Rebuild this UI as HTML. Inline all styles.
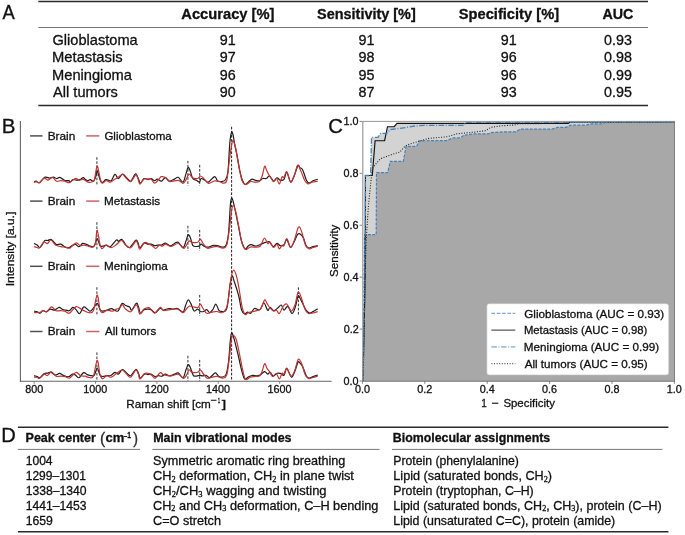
<!DOCTYPE html>
<html><head><meta charset="utf-8"><style>
html,body{margin:0;padding:0;background:#fff;}
svg{display:block;font-family:"Liberation Sans", sans-serif;will-change:transform;}
text{stroke:#111;stroke-width:0.3px;}
</style></head><body>
<svg width="685" height="535" viewBox="0 0 685 535">
<text x="2.41" y="19.2" font-size="19.6" textLength="12.23" lengthAdjust="spacingAndGlyphs" fill="#111">A</text>
<line x1="38.3" y1="1.6" x2="648" y2="1.6" stroke="#2a2a2a" stroke-width="1.5"/>
<line x1="38.3" y1="27.5" x2="648" y2="27.5" stroke="#777" stroke-width="1"/>
<line x1="38.3" y1="105.5" x2="648" y2="105.5" stroke="#2a2a2a" stroke-width="1.4"/>
<text x="181.33" y="19.1" font-size="14.3" font-weight="bold" textLength="93.09" lengthAdjust="spacingAndGlyphs" fill="#111">Accuracy [%]</text>
<text x="317.07" y="19.1" font-size="14.3" font-weight="bold" textLength="98.70" lengthAdjust="spacingAndGlyphs" fill="#111">Sensitivity [%]</text>
<text x="458.76" y="19.1" font-size="14.3" font-weight="bold" textLength="100.32" lengthAdjust="spacingAndGlyphs" fill="#111">Specificity [%]</text>
<text x="602.44" y="19.1" font-size="14.3" font-weight="bold" textLength="30.94" lengthAdjust="spacingAndGlyphs" fill="#111">AUC</text>
<text x="52.47" y="44.7" font-size="14.3" textLength="85.25" lengthAdjust="spacingAndGlyphs" fill="#111">Glioblastoma</text>
<text x="227.7" y="44.7" font-size="14.3" text-anchor="middle" fill="#111">91</text>
<text x="366.5" y="44.7" font-size="14.3" text-anchor="middle" fill="#111">91</text>
<text x="508.7" y="44.7" font-size="14.3" text-anchor="middle" fill="#111">91</text>
<text x="618.0" y="44.7" font-size="14.3" text-anchor="middle" fill="#111">0.93</text>
<text x="52.02" y="62.1" font-size="14.3" textLength="70.59" lengthAdjust="spacingAndGlyphs" fill="#111">Metastasis</text>
<text x="227.7" y="62.1" font-size="14.3" text-anchor="middle" fill="#111">97</text>
<text x="366.5" y="62.1" font-size="14.3" text-anchor="middle" fill="#111">98</text>
<text x="508.7" y="62.1" font-size="14.3" text-anchor="middle" fill="#111">96</text>
<text x="618.0" y="62.1" font-size="14.3" text-anchor="middle" fill="#111">0.98</text>
<text x="52.03" y="79.7" font-size="14.3" textLength="79.91" lengthAdjust="spacingAndGlyphs" fill="#111">Meningioma</text>
<text x="227.7" y="79.7" font-size="14.3" text-anchor="middle" fill="#111">96</text>
<text x="366.5" y="79.7" font-size="14.3" text-anchor="middle" fill="#111">95</text>
<text x="508.7" y="79.7" font-size="14.3" text-anchor="middle" fill="#111">96</text>
<text x="618.0" y="79.7" font-size="14.3" text-anchor="middle" fill="#111">0.99</text>
<text x="53.13" y="96.9" font-size="14.3" textLength="64.69" lengthAdjust="spacingAndGlyphs" fill="#111">All tumors</text>
<text x="227.7" y="96.9" font-size="14.3" text-anchor="middle" fill="#111">90</text>
<text x="366.5" y="96.9" font-size="14.3" text-anchor="middle" fill="#111">87</text>
<text x="508.7" y="96.9" font-size="14.3" text-anchor="middle" fill="#111">93</text>
<text x="618.0" y="96.9" font-size="14.3" text-anchor="middle" fill="#111">0.95</text>
<text x="1.39" y="441.6" font-size="20" textLength="14.57" lengthAdjust="spacingAndGlyphs" fill="#111">D</text>
<line x1="17.9" y1="427.3" x2="668.4" y2="427.3" stroke="#2a2a2a" stroke-width="1.5"/>
<line x1="17.9" y1="449.4" x2="140" y2="449.4" stroke="#777" stroke-width="1"/>
<line x1="152.4" y1="449.4" x2="379.6" y2="449.4" stroke="#777" stroke-width="1"/>
<line x1="392" y1="449.4" x2="662.4" y2="449.4" stroke="#777" stroke-width="1"/>
<line x1="17.9" y1="531.8" x2="668.4" y2="531.8" stroke="#2a2a2a" stroke-width="1.5"/>
<text x="25.59" y="442.4" font-size="12.0" font-weight="bold" textLength="70.20" lengthAdjust="spacingAndGlyphs" fill="#111">Peak center</text>
<text x="100.07" y="444.0" font-size="16" textLength="5.15" lengthAdjust="spacingAndGlyphs" fill="#333">(</text>
<text x="105.58" y="442.4" font-size="12.0" font-weight="bold" textLength="18.77" lengthAdjust="spacingAndGlyphs" fill="#111">cm</text>
<text x="123.53" y="437.8" font-size="8" font-weight="bold" textLength="3.92" lengthAdjust="spacingAndGlyphs" fill="#111">-</text>
<text x="127.35" y="437.9" font-size="9.5" font-weight="bold" textLength="3.83" lengthAdjust="spacingAndGlyphs" fill="#111">1</text>
<text x="133.16" y="444.0" font-size="16" textLength="4.74" lengthAdjust="spacingAndGlyphs" fill="#333">)</text>
<text x="153.19" y="442.4" font-size="12.0" font-weight="bold" textLength="138.35" lengthAdjust="spacingAndGlyphs" fill="#111">Main vibrational modes</text>
<text x="392.80" y="442.4" font-size="12.0" font-weight="bold" textLength="157.41" lengthAdjust="spacingAndGlyphs" fill="#111">Biomolecular assignments</text>
<text x="25.7" y="464.8" font-size="12.55" textLength="26.91" lengthAdjust="spacingAndGlyphs" fill="#111" id="d00">1004</text>
<text x="153.0" y="464.8" font-size="12.55" textLength="192.34" lengthAdjust="spacingAndGlyphs" fill="#111" id="d01">Symmetric aromatic ring breathing</text>
<text x="393.3" y="464.8" font-size="12.55" textLength="125.64" lengthAdjust="spacingAndGlyphs" fill="#111" id="d02">Protein (phenylalanine)</text>
<text x="25.7" y="479.75" font-size="12.55" textLength="60.2" lengthAdjust="spacingAndGlyphs" fill="#111" id="d10">1299–1301</text>
<text x="153.0" y="479.75" font-size="12.55" textLength="200.95" lengthAdjust="spacingAndGlyphs" fill="#111" id="d11">CH<tspan font-size="8.2" dy="1.8" font-family="Liberation Serif">2</tspan><tspan dy="-1.8"> deformation, CH</tspan><tspan font-size="8.2" dy="1.8" font-family="Liberation Serif">2</tspan><tspan dy="-1.8"> in plane twist</tspan></text>
<text x="393.3" y="479.75" font-size="12.55" textLength="158.78" lengthAdjust="spacingAndGlyphs" fill="#111" id="d12">Lipid (saturated bonds, CH<tspan font-size="8.2" dy="1.8" font-family="Liberation Serif">2</tspan><tspan dy="-1.8">)</tspan></text>
<text x="25.7" y="494.7" font-size="12.55" textLength="60.95" lengthAdjust="spacingAndGlyphs" fill="#111" id="d20">1338–1340</text>
<text x="153.0" y="494.7" font-size="12.55" textLength="173.57" lengthAdjust="spacingAndGlyphs" fill="#111" id="d21">CH<tspan font-size="8.2" dy="1.8" font-family="Liberation Serif">2</tspan><tspan dy="-1.8">/CH</tspan><tspan font-size="8.2" dy="1.8" font-family="Liberation Serif">3</tspan><tspan dy="-1.8"> wagging and twisting</tspan></text>
<text x="393.3" y="494.7" font-size="12.55" textLength="140.4" lengthAdjust="spacingAndGlyphs" fill="#111" id="d22">Protein (tryptophan, C–H)</text>
<text x="25.7" y="509.65" font-size="12.55" textLength="60.92" lengthAdjust="spacingAndGlyphs" fill="#111" id="d30">1441–1453</text>
<text x="153.0" y="509.65" font-size="12.55" textLength="225.42" lengthAdjust="spacingAndGlyphs" fill="#111" id="d31">CH<tspan font-size="8.2" dy="1.8" font-family="Liberation Serif">2</tspan><tspan dy="-1.8"> and CH</tspan><tspan font-size="8.2" dy="1.8" font-family="Liberation Serif">3</tspan><tspan dy="-1.8"> deformation, C–H bending</tspan></text>
<text x="393.3" y="509.65" font-size="12.55" textLength="268.3" lengthAdjust="spacingAndGlyphs" fill="#111" id="d32">Lipid (saturated bonds, CH<tspan font-size="8.2" dy="1.8" font-family="Liberation Serif">2</tspan><tspan dy="-1.8">, CH</tspan><tspan font-size="8.2" dy="1.8" font-family="Liberation Serif">3</tspan><tspan dy="-1.8">), protein (C–H)</tspan></text>
<text x="25.7" y="524.6" font-size="12.55" textLength="27.15" lengthAdjust="spacingAndGlyphs" fill="#111" id="d40">1659</text>
<text x="153.0" y="524.6" font-size="12.55" textLength="67.94" lengthAdjust="spacingAndGlyphs" fill="#111" id="d41">C=O stretch</text>
<text x="393.3" y="524.6" font-size="12.55" textLength="221.86" lengthAdjust="spacingAndGlyphs" fill="#111" id="d42">Lipid (unsaturated C=C), protein (amide)</text>
<text x="1.66" y="132.5" font-size="19.6" textLength="13.71" lengthAdjust="spacingAndGlyphs" fill="#111">B</text>
<line x1="20.4" y1="121" x2="20.4" y2="381.8" stroke="#666" stroke-width="1.1"/>
<line x1="19.9" y1="381.25" x2="331.6" y2="381.25" stroke="#666" stroke-width="1.1"/>
<line x1="34.2" y1="381" x2="34.2" y2="383.8" stroke="#777" stroke-width="0.9"/>
<text x="25.18" y="393.4" font-size="10.8" textLength="18.02" lengthAdjust="spacingAndGlyphs" fill="#111">800</text>
<line x1="95.56" y1="381" x2="95.56" y2="383.8" stroke="#777" stroke-width="0.9"/>
<text x="83.36" y="393.4" font-size="10.8" textLength="24.03" lengthAdjust="spacingAndGlyphs" fill="#111">1000</text>
<line x1="156.92000000000002" y1="381" x2="156.92000000000002" y2="383.8" stroke="#777" stroke-width="0.9"/>
<text x="144.72" y="393.4" font-size="10.8" textLength="24.03" lengthAdjust="spacingAndGlyphs" fill="#111">1200</text>
<line x1="218.28000000000003" y1="381" x2="218.28000000000003" y2="383.8" stroke="#777" stroke-width="0.9"/>
<text x="206.08" y="393.4" font-size="10.8" textLength="24.03" lengthAdjust="spacingAndGlyphs" fill="#111">1400</text>
<line x1="279.64000000000004" y1="381" x2="279.64000000000004" y2="383.8" stroke="#777" stroke-width="0.9"/>
<text x="267.44" y="393.4" font-size="10.8" textLength="24.03" lengthAdjust="spacingAndGlyphs" fill="#111">1600</text>
<text x="126.26" y="407.5" font-size="11.8" textLength="84.55" lengthAdjust="spacingAndGlyphs" fill="#111">Raman shift [cm</text>
<text x="210.66" y="403.3" font-size="8.5" textLength="6.26" lengthAdjust="spacingAndGlyphs" fill="#111">−</text>
<text x="217.67" y="403.2" font-size="8.0" textLength="2.46" lengthAdjust="spacingAndGlyphs" fill="#111">1</text>
<text x="221.84" y="407.5" font-size="11.8" textLength="4.56" lengthAdjust="spacingAndGlyphs" fill="#111">]</text>
<g transform="translate(14.3,0) rotate(-90)">
<text x="-286.28" y="0" font-size="11.5" textLength="74.52" lengthAdjust="spacingAndGlyphs" fill="#111">Intensity [a.u.]</text>
</g>
<line x1="30.1" y1="135.9" x2="42.5" y2="135.9" stroke="#505050" stroke-width="1.5"/>
<text x="47.65" y="139.8" font-size="11.5" textLength="27.61" lengthAdjust="spacingAndGlyphs" fill="#111">Brain</text>
<line x1="86.2" y1="135.9" x2="99.3" y2="135.9" stroke="#cc6262" stroke-width="1.5"/>
<text x="104.42" y="139.8" font-size="11.5" textLength="67.29" lengthAdjust="spacingAndGlyphs" fill="#111">Glioblastoma</text>
<line x1="30.1" y1="201.1" x2="42.5" y2="201.1" stroke="#505050" stroke-width="1.5"/>
<text x="47.65" y="205.0" font-size="11.5" textLength="27.61" lengthAdjust="spacingAndGlyphs" fill="#111">Brain</text>
<line x1="86.2" y1="201.1" x2="99.3" y2="201.1" stroke="#cc6262" stroke-width="1.5"/>
<text x="104.06" y="205.0" font-size="11.5" textLength="56.14" lengthAdjust="spacingAndGlyphs" fill="#111">Metastasis</text>
<line x1="30.1" y1="266.30000000000007" x2="42.5" y2="266.30000000000007" stroke="#505050" stroke-width="1.5"/>
<text x="47.65" y="270.2" font-size="11.5" textLength="27.61" lengthAdjust="spacingAndGlyphs" fill="#111">Brain</text>
<line x1="86.2" y1="266.30000000000007" x2="99.3" y2="266.30000000000007" stroke="#cc6262" stroke-width="1.5"/>
<text x="104.07" y="270.2" font-size="11.5" textLength="63.66" lengthAdjust="spacingAndGlyphs" fill="#111">Meningioma</text>
<line x1="30.1" y1="331.50000000000006" x2="42.5" y2="331.50000000000006" stroke="#505050" stroke-width="1.5"/>
<text x="47.65" y="335.4" font-size="11.5" textLength="27.61" lengthAdjust="spacingAndGlyphs" fill="#111">Brain</text>
<line x1="86.2" y1="331.50000000000006" x2="99.3" y2="331.50000000000006" stroke="#cc6262" stroke-width="1.5"/>
<text x="104.94" y="335.4" font-size="11.5" textLength="51.27" lengthAdjust="spacingAndGlyphs" fill="#111">All tumors</text>
<text x="328.18" y="132.6" font-size="19.6" textLength="14.67" lengthAdjust="spacingAndGlyphs" fill="#111">C</text>
<text x="481.35" y="406.8" font-size="11.8" textLength="5.56" lengthAdjust="spacingAndGlyphs" fill="#111">1</text>
<text x="491.68" y="406.8" font-size="11.8" textLength="7.22" lengthAdjust="spacingAndGlyphs" fill="#111">−</text>
<text x="503.39" y="406.8" font-size="11.8" textLength="51.49" lengthAdjust="spacingAndGlyphs" fill="#111">Specificity</text>
<g transform="translate(338.1,0) rotate(-90)">
<text x="-277.02" y="0" font-size="11.5" textLength="52.30" lengthAdjust="spacingAndGlyphs" fill="#111">Sensitivity</text>
</g>
<text x="354.89" y="393.2" font-size="10.8" textLength="15.01" lengthAdjust="spacingAndGlyphs" fill="#111">0.0</text>
<line x1="362.4" y1="381" x2="362.4" y2="383.8" stroke="#777" stroke-width="0.9"/>
<text x="343.52" y="385.0" font-size="10.8" textLength="15.01" lengthAdjust="spacingAndGlyphs" fill="#111">0.0</text>
<line x1="359.6" y1="381.0" x2="362.4" y2="381.0" stroke="#777" stroke-width="0.9"/>
<text x="417.35" y="393.2" font-size="10.8" textLength="15.01" lengthAdjust="spacingAndGlyphs" fill="#111">0.2</text>
<line x1="424.79999999999995" y1="381" x2="424.79999999999995" y2="383.8" stroke="#777" stroke-width="0.9"/>
<text x="343.63" y="333.08" font-size="10.8" textLength="15.01" lengthAdjust="spacingAndGlyphs" fill="#111">0.2</text>
<line x1="359.6" y1="329.08" x2="362.4" y2="329.08" stroke="#777" stroke-width="0.9"/>
<text x="479.64" y="393.2" font-size="10.8" textLength="15.01" lengthAdjust="spacingAndGlyphs" fill="#111">0.4</text>
<line x1="487.2" y1="381" x2="487.2" y2="383.8" stroke="#777" stroke-width="0.9"/>
<text x="343.41" y="281.16" font-size="10.8" textLength="15.01" lengthAdjust="spacingAndGlyphs" fill="#111">0.4</text>
<line x1="359.6" y1="277.15999999999997" x2="362.4" y2="277.15999999999997" stroke="#777" stroke-width="0.9"/>
<text x="542.12" y="393.2" font-size="10.8" textLength="15.01" lengthAdjust="spacingAndGlyphs" fill="#111">0.6</text>
<line x1="549.5999999999999" y1="381" x2="549.5999999999999" y2="383.8" stroke="#777" stroke-width="0.9"/>
<text x="343.57" y="229.24" font-size="10.8" textLength="15.01" lengthAdjust="spacingAndGlyphs" fill="#111">0.6</text>
<line x1="359.6" y1="225.23999999999998" x2="362.4" y2="225.23999999999998" stroke="#777" stroke-width="0.9"/>
<text x="604.49" y="393.2" font-size="10.8" textLength="15.01" lengthAdjust="spacingAndGlyphs" fill="#111">0.8</text>
<line x1="612.0" y1="381" x2="612.0" y2="383.8" stroke="#777" stroke-width="0.9"/>
<text x="343.52" y="177.32" font-size="10.8" textLength="15.01" lengthAdjust="spacingAndGlyphs" fill="#111">0.8</text>
<line x1="359.6" y1="173.31999999999996" x2="362.4" y2="173.31999999999996" stroke="#777" stroke-width="0.9"/>
<text x="666.71" y="393.2" font-size="10.8" textLength="15.01" lengthAdjust="spacingAndGlyphs" fill="#111">1.0</text>
<line x1="674.4" y1="381" x2="674.4" y2="383.8" stroke="#777" stroke-width="0.9"/>
<text x="343.52" y="125.4" font-size="10.8" textLength="15.01" lengthAdjust="spacingAndGlyphs" fill="#111">1.0</text>
<line x1="359.6" y1="121.39999999999998" x2="362.4" y2="121.39999999999998" stroke="#777" stroke-width="0.9"/>
<line x1="96.9" y1="157.2" x2="96.9" y2="185.8" stroke="#333" stroke-width="1" stroke-dasharray="2.6 1.5"/>
<line x1="187.9" y1="160.8" x2="187.9" y2="185.8" stroke="#333" stroke-width="1" stroke-dasharray="2.6 1.5"/>
<line x1="199.7" y1="164.9" x2="199.7" y2="185.8" stroke="#333" stroke-width="1" stroke-dasharray="2.6 1.5"/>
<line x1="96.9" y1="222.2" x2="96.9" y2="250.8" stroke="#333" stroke-width="1" stroke-dasharray="2.6 1.5"/>
<line x1="187.9" y1="225.8" x2="187.9" y2="250.8" stroke="#333" stroke-width="1" stroke-dasharray="2.6 1.5"/>
<line x1="199.7" y1="229.9" x2="199.7" y2="250.8" stroke="#333" stroke-width="1" stroke-dasharray="2.6 1.5"/>
<line x1="96.9" y1="287.2" x2="96.9" y2="315.8" stroke="#333" stroke-width="1" stroke-dasharray="2.6 1.5"/>
<line x1="199.7" y1="294.9" x2="199.7" y2="315.8" stroke="#333" stroke-width="1" stroke-dasharray="2.6 1.5"/>
<line x1="298.4" y1="287.3" x2="298.4" y2="315.8" stroke="#333" stroke-width="1" stroke-dasharray="2.6 1.5"/>
<line x1="96.9" y1="352.4" x2="96.9" y2="381" stroke="#333" stroke-width="1" stroke-dasharray="2.6 1.5"/>
<line x1="187.9" y1="355.8" x2="187.9" y2="381" stroke="#333" stroke-width="1" stroke-dasharray="2.6 1.5"/>
<line x1="199.7" y1="359.9" x2="199.7" y2="381" stroke="#333" stroke-width="1" stroke-dasharray="2.6 1.5"/>
<line x1="231.6" y1="126.8" x2="231.6" y2="381" stroke="#222" stroke-width="1" stroke-dasharray="2.6 1.5"/>
<path d="M34.10,181.70 C34.43,181.62 35.25,181.03 36.10,181.20 C36.95,181.37 38.00,183.13 39.20,182.70 C40.40,182.27 42.28,179.53 43.30,178.60 C44.32,177.67 44.53,177.27 45.30,177.10 C46.07,176.93 47.13,177.43 47.90,177.60 C48.67,177.77 48.97,178.18 49.90,178.10 C50.83,178.02 52.38,177.02 53.50,177.10 C54.62,177.18 55.58,178.55 56.60,178.60 C57.62,178.65 58.58,177.32 59.60,177.40 C60.62,177.48 61.75,178.58 62.70,179.10 C63.65,179.62 64.28,180.23 65.30,180.50 C66.32,180.77 67.95,180.50 68.80,180.70 C69.65,180.90 69.72,181.88 70.40,181.70 C71.08,181.52 71.97,179.87 72.90,179.60 C73.83,179.33 74.80,180.10 76.00,180.10 C77.20,180.10 78.92,180.02 80.10,179.60 C81.28,179.18 82.17,177.60 83.10,177.60 C84.03,177.60 84.93,179.08 85.70,179.60 C86.47,180.12 86.93,180.70 87.70,180.70 C88.47,180.70 89.35,179.52 90.30,179.60 C91.25,179.68 92.55,181.53 93.40,181.20 C94.25,180.87 94.77,179.30 95.40,177.60 C96.03,175.90 96.68,171.52 97.20,171.00 C97.72,170.48 98.03,173.07 98.50,174.50 C98.97,175.93 99.40,178.23 100.00,179.60 C100.60,180.97 101.15,182.70 102.10,182.70 C103.05,182.70 104.68,180.03 105.70,179.60 C106.72,179.17 107.27,179.92 108.20,180.10 C109.13,180.28 110.18,181.67 111.30,180.70 C112.42,179.73 113.72,174.65 114.90,174.30 C116.08,173.95 117.13,178.65 118.40,178.60 C119.67,178.55 121.13,174.17 122.50,174.00 C123.87,173.83 125.23,176.40 126.60,177.60 C127.97,178.80 129.25,181.80 130.70,181.20 C132.15,180.60 134.10,174.60 135.30,174.00 C136.50,173.40 137.05,176.07 137.90,177.60 C138.75,179.13 139.38,183.03 140.40,183.20 C141.42,183.37 142.72,179.20 144.00,178.60 C145.28,178.00 146.92,179.60 148.10,179.60 C149.28,179.60 150.00,178.42 151.10,178.60 C152.20,178.78 153.67,180.62 154.70,180.70 C155.73,180.78 156.18,179.02 157.30,179.10 C158.42,179.18 160.05,181.45 161.40,181.20 C162.75,180.95 164.03,177.62 165.40,177.60 C166.77,177.58 168.08,180.85 169.60,181.10 C171.12,181.35 173.07,179.73 174.50,179.10 C175.93,178.47 176.78,176.80 178.20,177.30 C179.62,177.80 181.70,182.72 183.00,182.10 C184.30,181.48 185.15,176.03 186.00,173.60 C186.85,171.17 187.38,167.90 188.10,167.50 C188.82,167.10 189.53,169.37 190.30,171.20 C191.07,173.03 191.68,176.98 192.70,178.50 C193.72,180.02 195.28,179.70 196.40,180.30 C197.52,180.90 198.60,182.40 199.40,182.10 C200.20,181.80 200.28,178.80 201.20,178.50 C202.12,178.20 203.68,179.70 204.90,180.30 C206.12,180.90 206.88,182.72 208.50,182.10 C210.12,181.48 213.08,176.80 214.60,176.60 C216.12,176.40 216.38,180.08 217.60,180.90 C218.82,181.72 220.58,181.70 221.90,181.50 C223.22,181.30 224.48,181.42 225.50,179.70 C226.52,177.98 227.28,177.28 228.00,171.20 C228.72,165.12 229.20,149.68 229.80,143.20 C230.40,136.72 231.03,133.58 231.60,132.30 C232.17,131.02 232.65,133.27 233.20,135.50 C233.75,137.73 234.22,142.18 234.90,145.70 C235.58,149.22 236.50,152.55 237.30,156.60 C238.10,160.65 238.88,166.15 239.70,170.00 C240.52,173.85 241.28,177.28 242.20,179.70 C243.12,182.12 244.20,184.10 245.20,184.50 C246.20,184.90 247.08,183.00 248.20,182.10 C249.32,181.20 250.68,179.40 251.90,179.10 C253.12,178.80 254.28,180.00 255.50,180.30 C256.72,180.60 257.98,181.20 259.20,180.90 C260.42,180.60 261.58,178.90 262.80,178.50 C264.02,178.10 265.38,178.92 266.50,178.50 C267.62,178.08 268.30,175.57 269.50,176.00 C270.70,176.43 272.45,180.78 273.70,181.10 C274.95,181.42 275.90,178.05 277.00,177.90 C278.10,177.75 279.13,179.97 280.30,180.20 C281.47,180.43 282.92,180.63 284.00,179.30 C285.08,177.97 285.70,171.73 286.80,172.20 C287.90,172.67 289.35,181.55 290.60,182.10 C291.85,182.65 293.08,178.25 294.30,175.50 C295.52,172.75 296.97,166.92 297.90,165.60 C298.83,164.28 299.10,166.88 299.90,167.60 C300.70,168.32 301.62,167.80 302.70,169.90 C303.78,172.00 305.30,178.02 306.40,180.20 C307.50,182.38 308.20,182.92 309.30,183.00 C310.40,183.08 311.60,181.32 313.00,180.70 C314.40,180.08 316.92,179.53 317.70,179.30" fill="none" stroke="#1e1e1e" stroke-width="1.2" stroke-linejoin="round"/>
<path d="M34.10,182.50 C34.52,182.37 35.75,181.63 36.60,181.70 C37.45,181.77 38.25,183.25 39.20,182.90 C40.15,182.55 41.37,180.40 42.30,179.60 C43.23,178.80 43.87,178.02 44.80,178.10 C45.73,178.18 46.78,180.18 47.90,180.10 C49.02,180.02 50.57,177.93 51.50,177.60 C52.43,177.27 52.65,177.50 53.50,178.10 C54.35,178.70 55.40,180.77 56.60,181.20 C57.80,181.63 59.35,180.70 60.70,180.70 C62.05,180.70 63.27,180.87 64.70,181.20 C66.13,181.53 67.93,182.88 69.30,182.70 C70.67,182.52 71.78,180.82 72.90,180.10 C74.02,179.38 74.98,178.40 76.00,178.40 C77.02,178.40 77.82,179.93 79.00,180.10 C80.18,180.27 81.98,179.30 83.10,179.40 C84.22,179.50 84.85,180.23 85.70,180.70 C86.55,181.17 87.10,182.03 88.20,182.20 C89.30,182.37 91.27,182.13 92.30,181.70 C93.33,181.27 93.63,182.15 94.40,179.60 C95.17,177.05 96.22,167.93 96.90,166.40 C97.58,164.87 97.98,168.53 98.50,170.40 C99.02,172.27 99.40,175.47 100.00,177.60 C100.60,179.73 101.07,182.68 102.10,183.20 C103.13,183.72 104.83,180.87 106.20,180.70 C107.57,180.53 108.95,182.38 110.30,182.20 C111.65,182.02 112.95,180.45 114.30,179.60 C115.65,178.75 117.03,177.95 118.40,177.10 C119.77,176.25 121.13,174.25 122.50,174.50 C123.87,174.75 125.23,177.40 126.60,178.60 C127.97,179.80 129.17,182.30 130.70,181.70 C132.23,181.10 134.60,175.52 135.80,175.00 C137.00,174.48 137.22,177.07 137.90,178.60 C138.58,180.13 138.88,184.12 139.90,184.20 C140.92,184.28 142.63,179.95 144.00,179.10 C145.37,178.25 146.92,179.10 148.10,179.10 C149.28,179.10 150.00,178.42 151.10,179.10 C152.20,179.78 153.33,183.28 154.70,183.20 C156.07,183.12 158.18,179.70 159.30,178.60 C160.42,177.50 160.38,176.77 161.40,176.60 C162.42,176.43 164.03,176.78 165.40,177.60 C166.77,178.42 167.47,181.05 169.60,181.50 C171.73,181.95 175.97,180.00 178.20,180.30 C180.43,180.60 181.70,183.40 183.00,183.30 C184.30,183.20 184.98,181.22 186.00,179.70 C187.02,178.18 187.98,174.50 189.10,174.20 C190.22,173.90 191.28,177.18 192.70,177.90 C194.12,178.62 196.28,178.82 197.60,178.50 C198.92,178.18 199.58,176.00 200.60,176.00 C201.62,176.00 202.38,177.28 203.70,178.50 C205.02,179.72 206.68,182.90 208.50,183.30 C210.32,183.70 212.77,181.20 214.60,180.90 C216.43,180.60 218.08,181.13 219.50,181.50 C220.92,181.87 221.88,183.30 223.10,183.10 C224.32,182.90 225.78,183.90 226.80,180.30 C227.82,176.70 228.30,167.88 229.20,161.50 C230.10,155.12 231.38,145.15 232.20,142.00 C233.02,138.85 233.47,141.38 234.10,142.60 C234.73,143.82 235.47,146.77 236.00,149.30 C236.53,151.83 236.68,154.15 237.30,157.80 C237.92,161.45 238.88,167.35 239.70,171.20 C240.52,175.05 241.18,178.68 242.20,180.90 C243.22,183.12 244.38,184.40 245.80,184.50 C247.22,184.60 249.28,181.90 250.70,181.50 C252.12,181.10 252.88,182.10 254.30,182.10 C255.72,182.10 257.88,182.52 259.20,181.50 C260.52,180.48 261.30,178.53 262.20,176.00 C263.10,173.47 263.88,167.30 264.60,166.30 C265.32,165.30 265.78,168.58 266.50,170.00 C267.22,171.42 268.10,173.38 268.90,174.80 C269.70,176.22 270.50,177.37 271.30,178.50 C272.10,179.63 272.83,181.63 273.70,181.60 C274.57,181.57 275.57,177.92 276.50,178.30 C277.43,178.68 278.37,184.13 279.30,183.90 C280.23,183.67 281.32,177.98 282.10,176.90 C282.88,175.82 283.22,178.25 284.00,177.40 C284.78,176.55 285.70,171.10 286.80,171.80 C287.90,172.50 289.35,180.98 290.60,181.60 C291.85,182.22 293.13,178.23 294.30,175.50 C295.47,172.77 296.52,165.98 297.60,165.20 C298.68,164.42 299.63,168.30 300.80,170.80 C301.97,173.30 303.42,178.02 304.60,180.20 C305.78,182.38 306.65,183.58 307.90,183.90 C309.15,184.22 310.47,182.57 312.10,182.10 C313.73,181.63 316.77,181.27 317.70,181.10" fill="none" stroke="#c53434" stroke-width="1.2" stroke-linejoin="round"/>
<path d="M34.10,243.40 C34.62,243.68 36.27,244.42 37.20,245.10 C38.13,245.78 38.85,247.58 39.70,247.50 C40.55,247.42 41.45,245.77 42.30,244.60 C43.15,243.43 43.87,241.18 44.80,240.50 C45.73,239.82 46.88,240.70 47.90,240.50 C48.92,240.30 49.97,239.12 50.90,239.30 C51.83,239.48 52.55,240.72 53.50,241.60 C54.45,242.48 55.40,244.18 56.60,244.60 C57.80,245.02 59.25,243.67 60.70,244.10 C62.15,244.53 63.95,246.60 65.30,247.20 C66.65,247.80 67.53,248.05 68.80,247.70 C70.07,247.35 71.70,245.62 72.90,245.10 C74.10,244.58 74.98,244.33 76.00,244.60 C77.02,244.87 77.90,246.90 79.00,246.70 C80.10,246.50 81.48,243.83 82.60,243.40 C83.72,242.97 84.58,243.72 85.70,244.10 C86.82,244.48 88.02,245.27 89.30,245.70 C90.58,246.13 92.38,247.13 93.40,246.70 C94.42,246.27 94.73,244.43 95.40,243.10 C96.07,241.77 96.63,238.27 97.40,238.70 C98.17,239.13 99.13,244.45 100.00,245.70 C100.87,246.95 101.57,246.30 102.60,246.20 C103.63,246.10 104.92,245.02 106.20,245.10 C107.48,245.18 108.60,247.55 110.30,246.70 C112.00,245.85 115.05,240.88 116.40,240.00 C117.75,239.12 117.47,241.48 118.40,241.40 C119.33,241.32 120.80,238.97 122.00,239.50 C123.20,240.03 124.32,243.27 125.60,244.60 C126.88,245.93 128.00,248.22 129.70,247.50 C131.40,246.78 134.43,241.12 135.80,240.30 C137.17,239.48 137.22,241.37 137.90,242.60 C138.58,243.83 138.88,247.62 139.90,247.70 C140.92,247.78 142.63,243.70 144.00,243.10 C145.37,242.50 146.92,243.93 148.10,244.10 C149.28,244.27 150.00,243.83 151.10,244.10 C152.20,244.37 153.58,245.53 154.70,245.70 C155.82,245.87 156.68,245.20 157.80,245.10 C158.92,245.00 160.13,245.43 161.40,245.10 C162.67,244.77 163.92,242.97 165.40,243.10 C166.88,243.23 168.78,245.83 170.30,245.90 C171.82,245.97 173.18,244.10 174.50,243.50 C175.82,242.90 176.78,241.60 178.20,242.30 C179.62,243.00 181.70,247.92 183.00,247.70 C184.30,247.48 185.15,243.12 186.00,241.00 C186.85,238.88 187.38,235.60 188.10,235.00 C188.82,234.40 189.53,235.68 190.30,237.40 C191.07,239.12 191.68,243.78 192.70,245.30 C193.72,246.82 195.28,246.40 196.40,246.50 C197.52,246.60 198.60,246.30 199.40,245.90 C200.20,245.50 200.38,244.00 201.20,244.10 C202.02,244.20 203.08,246.00 204.30,246.50 C205.52,247.00 206.98,247.30 208.50,247.10 C210.02,246.90 211.77,245.50 213.40,245.30 C215.03,245.10 216.68,245.60 218.30,245.90 C219.92,246.20 221.78,247.30 223.10,247.10 C224.42,246.90 225.28,247.13 226.20,244.70 C227.12,242.27 227.90,239.18 228.60,232.50 C229.30,225.82 229.90,210.30 230.40,204.60 C230.90,198.90 231.17,198.92 231.60,198.30 C232.03,197.68 232.35,198.63 233.00,200.90 C233.65,203.17 234.58,207.63 235.50,211.90 C236.42,216.17 237.50,221.65 238.50,226.50 C239.50,231.35 240.38,237.27 241.50,241.00 C242.62,244.73 244.08,248.08 245.20,248.90 C246.32,249.72 247.18,246.60 248.20,245.90 C249.22,245.20 250.08,244.67 251.30,244.70 C252.52,244.73 254.08,246.10 255.50,246.10 C256.92,246.10 258.38,245.23 259.80,244.70 C261.22,244.17 262.48,243.42 264.00,242.90 C265.52,242.38 267.90,241.68 268.90,241.60 C269.90,241.52 269.27,241.57 270.00,242.40 C270.73,243.23 272.13,246.45 273.30,246.60 C274.47,246.75 275.83,243.45 277.00,243.30 C278.17,243.15 279.13,245.47 280.30,245.70 C281.47,245.93 282.92,245.72 284.00,244.70 C285.08,243.68 285.70,239.13 286.80,239.60 C287.90,240.07 289.35,247.20 290.60,247.50 C291.85,247.80 293.13,243.58 294.30,241.40 C295.47,239.22 296.52,235.57 297.60,234.40 C298.68,233.23 299.80,233.70 300.80,234.40 C301.80,235.10 302.67,236.65 303.60,238.60 C304.53,240.55 305.45,244.53 306.40,246.10 C307.35,247.67 308.20,247.92 309.30,248.00 C310.40,248.08 311.60,246.98 313.00,246.60 C314.40,246.22 316.92,245.85 317.70,245.70" fill="none" stroke="#1e1e1e" stroke-width="1.2" stroke-linejoin="round"/>
<path d="M34.10,246.70 C34.62,246.83 36.27,247.30 37.20,247.50 C38.13,247.70 38.60,248.80 39.70,247.90 C40.80,247.00 42.52,242.82 43.80,242.10 C45.08,241.38 46.22,243.95 47.40,243.60 C48.58,243.25 49.55,239.75 50.90,240.00 C52.25,240.25 53.87,243.98 55.50,245.10 C57.13,246.22 58.98,246.35 60.70,246.70 C62.42,247.05 64.27,246.95 65.80,247.20 C67.33,247.45 68.72,248.55 69.90,248.20 C71.08,247.85 71.80,246.00 72.90,245.10 C74.00,244.20 75.30,242.70 76.50,242.80 C77.70,242.90 78.82,245.32 80.10,245.70 C81.38,246.08 82.85,245.02 84.20,245.10 C85.55,245.18 86.77,245.85 88.20,246.20 C89.63,246.55 91.60,247.63 92.80,247.20 C94.00,246.77 94.67,246.42 95.40,243.60 C96.13,240.78 96.43,230.13 97.20,230.30 C97.97,230.47 99.18,241.53 100.00,244.60 C100.82,247.67 101.07,248.62 102.10,248.70 C103.13,248.78 104.67,245.27 106.20,245.10 C107.73,244.93 109.60,247.78 111.30,247.70 C113.00,247.62 114.70,245.80 116.40,244.60 C118.10,243.40 119.97,240.42 121.50,240.50 C123.03,240.58 124.07,243.90 125.60,245.10 C127.13,246.30 129.00,248.37 130.70,247.70 C132.40,247.03 134.60,241.70 135.80,241.10 C137.00,240.50 137.22,242.75 137.90,244.10 C138.58,245.45 138.80,249.45 139.90,249.20 C141.00,248.95 142.97,243.45 144.50,242.60 C146.03,241.75 147.82,243.58 149.10,244.10 C150.38,244.62 151.10,244.97 152.20,245.70 C153.30,246.43 154.52,248.60 155.70,248.50 C156.88,248.40 158.18,245.48 159.30,245.10 C160.42,244.72 161.38,246.37 162.40,246.20 C163.42,246.03 163.98,244.05 165.40,244.10 C166.82,244.15 168.77,246.60 170.90,246.50 C173.03,246.40 176.08,243.20 178.20,243.50 C180.32,243.80 182.30,247.90 183.60,248.30 C184.90,248.70 185.08,247.12 186.00,245.90 C186.92,244.68 188.08,241.60 189.10,241.00 C190.12,240.40 190.68,242.08 192.10,242.30 C193.52,242.52 196.22,242.82 197.60,242.30 C198.98,241.78 199.48,239.00 200.40,239.20 C201.32,239.40 201.95,241.98 203.10,243.50 C204.25,245.02 205.78,247.70 207.30,248.30 C208.82,248.90 210.58,247.40 212.20,247.10 C213.82,246.80 215.18,246.33 217.00,246.50 C218.82,246.67 221.47,248.40 223.10,248.10 C224.73,247.80 225.78,247.70 226.80,244.70 C227.82,241.70 228.40,235.77 229.20,230.10 C230.00,224.43 230.93,214.80 231.60,210.70 C232.27,206.60 232.55,205.50 233.20,205.50 C233.85,205.50 234.62,207.42 235.50,210.70 C236.38,213.98 237.38,219.73 238.50,225.20 C239.62,230.67 240.98,239.45 242.20,243.50 C243.42,247.55 244.48,248.90 245.80,249.50 C247.12,250.10 248.48,247.50 250.10,247.10 C251.72,246.70 253.88,247.20 255.50,247.10 C257.12,247.00 258.68,247.30 259.80,246.50 C260.92,245.70 261.40,243.72 262.20,242.30 C263.00,240.88 263.68,237.80 264.60,238.00 C265.52,238.20 266.78,242.78 267.70,243.50 C268.62,244.22 269.17,241.63 270.10,242.30 C271.03,242.97 272.15,247.17 273.30,247.50 C274.45,247.83 276.00,244.07 277.00,244.30 C278.00,244.53 278.45,248.75 279.30,248.90 C280.15,249.05 281.32,245.73 282.10,245.20 C282.88,244.67 283.22,246.80 284.00,245.70 C284.78,244.60 285.70,238.37 286.80,238.60 C287.90,238.83 289.35,246.78 290.60,247.10 C291.85,247.42 292.98,243.82 294.30,240.50 C295.62,237.18 297.25,228.60 298.50,227.20 C299.75,225.80 300.63,229.10 301.80,232.10 C302.97,235.10 304.25,242.40 305.50,245.20 C306.75,248.00 308.05,248.52 309.30,248.90 C310.55,249.28 311.60,247.97 313.00,247.50 C314.40,247.03 316.92,246.33 317.70,246.10" fill="none" stroke="#c53434" stroke-width="1.2" stroke-linejoin="round"/>
<path d="M34.10,311.20 C34.62,311.28 36.18,311.37 37.20,311.70 C38.22,312.03 39.27,313.37 40.20,313.20 C41.13,313.03 41.77,310.95 42.80,310.70 C43.83,310.45 45.13,311.97 46.40,311.70 C47.67,311.43 49.05,309.37 50.40,309.10 C51.75,308.83 53.05,310.38 54.50,310.10 C55.95,309.82 57.73,307.48 59.10,307.40 C60.47,307.32 61.58,309.15 62.70,309.60 C63.82,310.05 64.70,309.92 65.80,310.10 C66.90,310.28 68.12,311.15 69.30,310.70 C70.48,310.25 71.78,307.58 72.90,307.40 C74.02,307.22 74.88,308.55 76.00,309.60 C77.12,310.65 78.33,314.12 79.60,313.70 C80.87,313.28 82.33,307.87 83.60,307.10 C84.87,306.33 86.08,308.42 87.20,309.10 C88.32,309.78 89.27,311.37 90.30,311.20 C91.33,311.03 92.22,309.42 93.40,308.10 C94.58,306.78 96.30,303.05 97.40,303.30 C98.50,303.55 99.13,308.28 100.00,309.60 C100.87,310.92 101.40,311.12 102.60,311.20 C103.80,311.28 105.75,310.53 107.20,310.10 C108.65,309.67 109.93,308.50 111.30,308.60 C112.67,308.70 114.22,310.35 115.40,310.70 C116.58,311.05 117.30,311.90 118.40,310.70 C119.50,309.50 120.80,304.37 122.00,303.50 C123.20,302.63 124.32,304.90 125.60,305.50 C126.88,306.10 128.68,306.33 129.70,307.10 C130.72,307.87 130.60,310.73 131.70,310.10 C132.80,309.47 135.18,303.88 136.30,303.30 C137.42,302.72 137.72,304.95 138.40,306.60 C139.08,308.25 139.47,312.70 140.40,313.20 C141.33,313.70 142.72,310.28 144.00,309.60 C145.28,308.92 146.92,309.10 148.10,309.10 C149.28,309.10 149.92,309.00 151.10,309.60 C152.28,310.20 153.67,312.95 155.20,312.70 C156.73,312.45 158.93,308.53 160.30,308.10 C161.67,307.67 161.95,310.03 163.40,310.10 C164.85,310.17 167.35,308.67 169.00,308.50 C170.65,308.33 171.88,309.10 173.30,309.10 C174.72,309.10 175.88,308.00 177.50,308.50 C179.12,309.00 181.68,312.52 183.00,312.10 C184.32,311.68 184.55,308.02 185.40,306.00 C186.25,303.98 187.18,300.40 188.10,300.00 C189.02,299.60 189.92,301.78 190.90,303.60 C191.88,305.42 192.88,309.98 194.00,310.90 C195.12,311.82 196.50,309.00 197.60,309.10 C198.70,309.20 199.58,311.10 200.60,311.50 C201.62,311.90 202.68,311.80 203.70,311.50 C204.72,311.20 205.70,309.50 206.70,309.70 C207.70,309.90 208.68,312.70 209.70,312.70 C210.72,312.70 211.78,311.12 212.80,309.70 C213.82,308.28 214.78,304.10 215.80,304.20 C216.82,304.30 217.88,309.08 218.90,310.30 C219.92,311.52 220.80,311.40 221.90,311.50 C223.00,311.60 224.58,311.82 225.50,310.90 C226.42,309.98 226.68,310.05 227.40,306.00 C228.12,301.95 229.03,291.60 229.80,286.60 C230.57,281.60 231.25,276.82 232.00,276.00 C232.75,275.18 233.52,279.53 234.30,281.70 C235.08,283.87 235.90,286.37 236.70,289.00 C237.50,291.63 238.30,294.05 239.10,297.50 C239.90,300.95 240.58,306.97 241.50,309.70 C242.42,312.43 243.58,313.50 244.60,313.90 C245.62,314.30 246.58,312.20 247.60,312.10 C248.62,312.00 249.58,313.90 250.70,313.30 C251.82,312.70 253.08,309.10 254.30,308.50 C255.52,307.90 256.98,309.60 258.00,309.70 C259.02,309.80 259.40,310.22 260.40,309.10 C261.40,307.98 262.78,302.80 264.00,303.00 C265.22,303.20 266.68,309.58 267.70,310.30 C268.72,311.02 269.10,307.23 270.10,307.30 C271.10,307.37 272.47,310.53 273.70,310.70 C274.93,310.87 276.25,309.25 277.50,308.30 C278.75,307.35 280.12,304.68 281.20,305.00 C282.28,305.32 282.90,309.97 284.00,310.20 C285.10,310.43 286.47,305.85 287.80,306.40 C289.13,306.95 290.77,313.33 292.00,313.50 C293.23,313.67 294.20,310.28 295.20,307.40 C296.20,304.52 297.22,297.77 298.00,296.20 C298.78,294.63 299.12,296.77 299.90,298.00 C300.68,299.23 301.68,301.57 302.70,303.60 C303.72,305.63 304.83,308.63 306.00,310.20 C307.17,311.77 308.53,312.77 309.70,313.00 C310.87,313.23 311.67,312.30 313.00,311.60 C314.33,310.90 316.92,309.27 317.70,308.80" fill="none" stroke="#1e1e1e" stroke-width="1.2" stroke-linejoin="round"/>
<path d="M34.10,312.50 C34.62,312.53 36.18,312.75 37.20,312.70 C38.22,312.65 39.18,312.57 40.20,312.20 C41.22,311.83 42.18,310.58 43.30,310.50 C44.42,310.42 45.53,312.32 46.90,311.70 C48.27,311.08 49.97,306.97 51.50,306.80 C53.03,306.63 54.57,310.05 56.10,310.70 C57.63,311.35 59.27,310.62 60.70,310.70 C62.13,310.78 63.27,310.78 64.70,311.20 C66.13,311.62 67.93,313.47 69.30,313.20 C70.67,312.93 71.70,310.70 72.90,309.60 C74.10,308.50 75.13,306.68 76.50,306.60 C77.87,306.52 79.65,308.33 81.10,309.10 C82.55,309.87 83.83,310.60 85.20,311.20 C86.57,311.80 87.93,312.78 89.30,312.70 C90.67,312.62 92.08,313.68 93.40,310.70 C94.72,307.72 96.10,294.98 97.20,294.80 C98.30,294.62 99.10,306.62 100.00,309.60 C100.90,312.58 101.40,312.62 102.60,312.70 C103.80,312.78 105.58,310.35 107.20,310.10 C108.82,309.85 110.77,311.37 112.30,311.20 C113.83,311.03 115.20,309.62 116.40,309.10 C117.60,308.58 118.48,308.83 119.50,308.10 C120.52,307.37 121.48,304.53 122.50,304.70 C123.52,304.87 124.23,307.93 125.60,309.10 C126.97,310.27 129.00,312.38 130.70,311.70 C132.40,311.02 134.60,305.68 135.80,305.00 C137.00,304.32 137.22,306.07 137.90,307.60 C138.58,309.13 138.88,313.95 139.90,314.20 C140.92,314.45 142.55,310.20 144.00,309.10 C145.45,308.00 147.42,307.52 148.60,307.60 C149.78,307.68 150.08,308.67 151.10,309.60 C152.12,310.53 153.17,313.57 154.70,313.20 C156.23,312.83 158.85,307.85 160.30,307.40 C161.75,306.95 161.85,310.12 163.40,310.50 C164.95,310.88 167.25,309.93 169.60,309.70 C171.95,309.47 175.27,308.60 177.50,309.10 C179.73,309.60 181.47,312.80 183.00,312.70 C184.53,312.60 185.58,309.62 186.70,308.50 C187.82,307.38 188.28,306.20 189.70,306.00 C191.12,305.80 193.78,307.08 195.20,307.30 C196.62,307.52 197.33,307.82 198.20,307.30 C199.07,306.78 199.58,304.00 200.40,304.20 C201.22,304.40 202.05,306.98 203.10,308.50 C204.15,310.02 205.18,312.70 206.70,313.30 C208.22,313.90 210.48,312.40 212.20,312.10 C213.92,311.80 215.38,311.40 217.00,311.50 C218.62,311.60 220.37,313.20 221.90,312.70 C223.43,312.20 225.08,311.03 226.20,308.50 C227.32,305.97 227.80,302.57 228.60,297.50 C229.40,292.43 230.15,282.65 231.00,278.10 C231.85,273.55 232.75,270.40 233.70,270.20 C234.65,270.00 235.80,273.77 236.70,276.90 C237.60,280.03 238.18,283.93 239.10,289.00 C240.02,294.07 241.18,303.05 242.20,307.30 C243.22,311.55 244.20,313.60 245.20,314.50 C246.20,315.40 246.88,313.20 248.20,312.70 C249.52,312.20 251.47,311.90 253.10,311.50 C254.73,311.10 256.68,310.80 258.00,310.30 C259.32,309.80 259.90,310.22 261.00,308.50 C262.10,306.78 263.58,300.82 264.60,300.00 C265.62,299.18 266.20,302.28 267.10,303.60 C268.00,304.92 268.90,306.65 270.00,307.90 C271.10,309.15 272.62,310.72 273.70,311.10 C274.78,311.48 275.57,309.80 276.50,310.20 C277.43,310.60 278.20,314.13 279.30,313.50 C280.40,312.87 281.85,307.97 283.10,306.40 C284.35,304.83 285.40,303.32 286.80,304.10 C288.20,304.88 290.10,311.10 291.50,311.10 C292.90,311.10 294.12,307.22 295.20,304.10 C296.28,300.98 297.07,293.72 298.00,292.40 C298.93,291.08 299.63,293.38 300.80,296.20 C301.97,299.02 303.75,306.42 305.00,309.30 C306.25,312.18 306.97,312.88 308.30,313.50 C309.63,314.12 311.43,313.32 313.00,313.00 C314.57,312.68 316.92,311.83 317.70,311.60" fill="none" stroke="#c53434" stroke-width="1.2" stroke-linejoin="round"/>
<path d="M34.10,375.70 C34.62,375.83 36.27,376.13 37.20,376.50 C38.13,376.87 38.52,378.38 39.70,377.90 C40.88,377.42 42.93,374.40 44.30,373.60 C45.67,372.80 46.80,373.35 47.90,373.10 C49.00,372.85 49.63,371.77 50.90,372.10 C52.17,372.43 54.05,374.88 55.50,375.10 C56.95,375.32 58.23,373.33 59.60,373.40 C60.97,373.47 62.17,374.95 63.70,375.50 C65.23,376.05 67.35,376.93 68.80,376.70 C70.25,376.47 71.28,374.37 72.40,374.10 C73.52,373.83 74.40,374.50 75.50,375.10 C76.60,375.70 77.65,378.12 79.00,377.70 C80.35,377.28 82.23,373.12 83.60,372.60 C84.97,372.08 85.92,374.08 87.20,374.60 C88.48,375.12 90.10,375.62 91.30,375.70 C92.50,375.78 93.42,376.38 94.40,375.10 C95.38,373.82 96.27,368.00 97.20,368.00 C98.13,368.00 99.10,373.68 100.00,375.10 C100.90,376.52 101.48,376.40 102.60,376.50 C103.72,376.60 105.33,375.87 106.70,375.70 C108.07,375.53 109.43,376.05 110.80,375.50 C112.17,374.95 113.63,372.63 114.90,372.40 C116.17,372.17 117.13,374.58 118.40,374.10 C119.67,373.62 121.13,369.67 122.50,369.50 C123.87,369.33 125.23,372.07 126.60,373.10 C127.97,374.13 129.17,376.30 130.70,375.70 C132.23,375.10 134.52,369.93 135.80,369.50 C137.08,369.07 137.63,371.65 138.40,373.10 C139.17,374.55 139.38,378.03 140.40,378.20 C141.42,378.37 143.22,374.70 144.50,374.10 C145.78,373.50 147.00,374.60 148.10,374.60 C149.20,374.60 149.92,373.75 151.10,374.10 C152.28,374.45 154.00,376.43 155.20,376.70 C156.40,376.97 157.18,375.78 158.30,375.70 C159.42,375.62 160.72,376.47 161.90,376.20 C163.08,375.93 164.12,374.15 165.40,374.10 C166.68,374.05 168.08,375.90 169.60,375.90 C171.12,375.90 173.07,374.60 174.50,374.10 C175.93,373.60 176.78,372.30 178.20,372.90 C179.62,373.50 181.70,378.22 183.00,377.70 C184.30,377.18 185.15,371.97 186.00,369.80 C186.85,367.63 187.38,365.10 188.10,364.70 C188.82,364.30 189.43,365.63 190.30,367.40 C191.17,369.17 192.28,373.85 193.30,375.30 C194.32,376.75 195.28,376.10 196.40,376.10 C197.52,376.10 198.98,375.33 200.00,375.30 C201.02,375.27 201.48,375.90 202.50,375.90 C203.52,375.90 204.90,375.00 206.10,375.30 C207.30,375.60 208.18,378.10 209.70,377.70 C211.22,377.30 213.77,373.20 215.20,372.90 C216.63,372.60 217.08,375.20 218.30,375.90 C219.52,376.60 221.18,377.40 222.50,377.10 C223.82,376.80 225.18,376.73 226.20,374.10 C227.22,371.47 227.93,366.67 228.60,361.30 C229.27,355.93 229.70,346.65 230.20,341.90 C230.70,337.15 231.07,333.70 231.60,332.80 C232.13,331.90 232.75,334.58 233.40,336.50 C234.05,338.42 234.65,340.97 235.50,344.30 C236.35,347.63 237.50,352.25 238.50,356.50 C239.50,360.75 240.48,366.07 241.50,369.80 C242.52,373.53 243.48,377.68 244.60,378.90 C245.72,380.12 246.88,377.70 248.20,377.10 C249.52,376.50 251.08,375.50 252.50,375.30 C253.92,375.10 255.38,376.00 256.70,375.90 C258.02,375.80 259.08,375.42 260.40,374.70 C261.72,373.98 263.38,371.70 264.60,371.60 C265.82,371.50 266.78,373.98 267.70,374.10 C268.62,374.22 269.17,371.97 270.10,372.30 C271.03,372.63 272.15,375.93 273.30,376.10 C274.45,376.27 275.83,373.77 277.00,373.30 C278.17,372.83 279.13,372.98 280.30,373.30 C281.47,373.62 282.92,375.98 284.00,375.20 C285.08,374.42 285.55,368.28 286.80,368.60 C288.05,368.92 290.17,376.63 291.50,377.10 C292.83,377.57 293.72,373.90 294.80,371.40 C295.88,368.90 297.15,363.50 298.00,362.10 C298.85,360.70 299.12,362.22 299.90,363.00 C300.68,363.78 301.62,364.62 302.70,366.80 C303.78,368.98 305.30,374.23 306.40,376.10 C307.50,377.97 308.20,377.92 309.30,378.00 C310.40,378.08 311.60,377.07 313.00,376.60 C314.40,376.13 316.92,375.43 317.70,375.20" fill="none" stroke="#1e1e1e" stroke-width="1.2" stroke-linejoin="round"/>
<path d="M34.10,377.20 C34.62,377.25 36.27,377.33 37.20,377.50 C38.13,377.67 38.52,378.77 39.70,378.20 C40.88,377.63 43.02,374.55 44.30,374.10 C45.58,373.65 46.20,375.88 47.40,375.50 C48.60,375.12 50.05,371.68 51.50,371.80 C52.95,371.92 54.57,375.47 56.10,376.20 C57.63,376.93 59.17,376.12 60.70,376.20 C62.23,376.28 63.87,376.37 65.30,376.70 C66.73,377.03 68.03,378.47 69.30,378.20 C70.57,377.93 71.70,376.07 72.90,375.10 C74.10,374.13 75.22,372.30 76.50,372.40 C77.78,372.50 79.15,375.07 80.60,375.70 C82.05,376.33 83.75,375.90 85.20,376.20 C86.65,376.50 87.93,377.50 89.30,377.50 C90.67,377.50 92.08,379.07 93.40,376.20 C94.72,373.33 96.10,360.57 97.20,360.30 C98.30,360.03 99.10,371.53 100.00,374.60 C100.90,377.67 101.48,378.52 102.60,378.70 C103.72,378.88 105.25,375.95 106.70,375.70 C108.15,375.45 109.68,377.55 111.30,377.20 C112.92,376.85 114.62,374.80 116.40,373.60 C118.18,372.40 120.30,369.92 122.00,370.00 C123.70,370.08 125.15,372.90 126.60,374.10 C128.05,375.30 129.17,377.83 130.70,377.20 C132.23,376.57 134.52,370.82 135.80,370.30 C137.08,369.78 137.72,372.62 138.40,374.10 C139.08,375.58 138.88,379.28 139.90,379.20 C140.92,379.12 142.97,374.53 144.50,373.60 C146.03,372.67 147.82,373.25 149.10,373.60 C150.38,373.95 151.18,374.93 152.20,375.70 C153.22,376.47 153.85,378.72 155.20,378.20 C156.55,377.68 158.93,373.20 160.30,372.60 C161.67,372.00 161.63,374.05 163.40,374.60 C165.17,375.15 168.43,375.98 170.90,375.90 C173.37,375.82 176.08,373.70 178.20,374.10 C180.32,374.50 182.18,378.20 183.60,378.30 C185.02,378.40 185.78,376.12 186.70,374.70 C187.62,373.28 188.20,370.20 189.10,369.80 C190.00,369.40 190.68,371.88 192.10,372.30 C193.52,372.72 196.22,372.72 197.60,372.30 C198.98,371.88 199.48,369.60 200.40,369.80 C201.32,370.00 201.95,372.08 203.10,373.50 C204.25,374.92 205.78,377.70 207.30,378.30 C208.82,378.90 210.58,377.40 212.20,377.10 C213.82,376.80 215.18,376.33 217.00,376.50 C218.82,376.67 221.47,378.40 223.10,378.10 C224.73,377.80 225.78,377.90 226.80,374.70 C227.82,371.50 228.40,364.98 229.20,358.90 C230.00,352.82 230.80,342.05 231.60,338.20 C232.40,334.35 233.22,335.53 234.00,335.80 C234.78,336.07 235.40,336.85 236.30,339.80 C237.20,342.75 238.28,348.22 239.40,353.50 C240.52,358.78 241.93,367.17 243.00,371.50 C244.07,375.83 244.62,378.57 245.80,379.50 C246.98,380.43 248.48,377.60 250.10,377.10 C251.72,376.60 253.88,376.70 255.50,376.50 C257.12,376.30 258.68,376.82 259.80,375.90 C260.92,374.98 261.40,373.03 262.20,371.00 C263.00,368.97 263.78,364.10 264.60,363.70 C265.42,363.30 266.28,367.28 267.10,368.60 C267.92,369.92 268.60,370.28 269.50,371.60 C270.40,372.92 271.38,376.18 272.50,376.50 C273.62,376.82 275.07,373.10 276.20,373.50 C277.33,373.90 278.32,378.93 279.30,378.90 C280.28,378.87 281.32,374.07 282.10,373.30 C282.88,372.53 283.22,375.15 284.00,374.30 C284.78,373.45 285.63,367.90 286.80,368.20 C287.97,368.50 289.67,375.72 291.00,376.10 C292.33,376.48 293.58,373.30 294.80,370.50 C296.02,367.70 297.13,360.38 298.30,359.30 C299.47,358.22 300.68,361.50 301.80,364.00 C302.92,366.50 303.92,371.88 305.00,374.30 C306.08,376.72 306.97,377.97 308.30,378.50 C309.63,379.03 311.43,377.90 313.00,377.50 C314.57,377.10 316.92,376.33 317.70,376.10" fill="none" stroke="#c53434" stroke-width="1.2" stroke-linejoin="round"/>
<polygon points="363.00,381.00 364.60,300.00 365.30,175.50 370.60,175.50 371.50,137.40 377.90,137.40 380.70,133.40 386.10,133.40 387.50,126.70 394.20,126.70 397.00,123.60 464.00,123.40 466.00,122.20 674.40,121.60 674.40,381.00" fill="#d3d3d3"/>
<polygon points="363.00,381.00 364.60,234.70 376.20,234.70 376.50,172.60 387.60,172.60 390.30,161.30 403.30,161.30 406.10,146.30 416.60,146.30 419.50,140.80 446.00,140.60 453.40,137.90 460.40,137.90 463.90,135.30 474.70,133.80 488.70,133.80 491.00,132.60 503.90,131.80 515.50,131.80 520.20,129.10 552.00,129.10 557.80,127.30 566.00,127.30 570.70,125.20 585.90,125.20 591.70,123.80 602.20,123.80 605.70,122.10 674.40,121.80 674.40,381.00" fill="#a8a8a8"/>
<polyline points="363.00,381.00 364.60,234.70 376.20,234.70 376.50,172.60 387.60,172.60 390.30,161.30 403.30,161.30 406.10,146.30 416.60,146.30 419.50,140.80 446.00,140.60 453.40,137.90 460.40,137.90 463.90,135.30 474.70,133.80 488.70,133.80 491.00,132.60 503.90,131.80 515.50,131.80 520.20,129.10 552.00,129.10 557.80,127.30 566.00,127.30 570.70,125.20 585.90,125.20 591.70,123.80 602.20,123.80 605.70,122.10 674.40,121.80" fill="none" stroke="#4682b8" stroke-width="1.2" stroke-dasharray="3 1.4"/>
<polyline points="363.00,381.00 365.20,275.00 365.40,175.50 372.30,175.50 375.10,140.70 384.60,140.70 387.50,126.70 394.20,126.70 397.00,123.40 568.40,123.40 570.00,121.80 674.40,121.60" fill="none" stroke="#111" stroke-width="1.15"/>
<polyline points="363.00,381.00 365.20,275.00 365.40,175.50 370.60,175.50 371.50,137.40 377.90,137.40 380.70,133.40 386.90,133.40 390.30,129.50 400.00,128.40 414.90,126.00 425.00,125.30 463.90,125.30 466.00,122.40 674.40,122.20" fill="none" stroke="#4682b8" stroke-width="1.3" stroke-dasharray="5.5 1.6 1 1.6"/>
<polyline points="363.00,381.00 365.00,280.00 366.20,240.00 368.50,205.00 371.50,176.00 372.50,168.20 375.00,164.80 380.50,158.70 388.00,155.90 393.00,154.20 400.00,151.90 404.00,147.20 407.30,144.90 418.40,141.40 428.90,138.40 447.60,136.70 456.90,133.80 470.00,132.60 485.20,130.80 491.00,127.30 500.40,125.90 514.40,125.00 519.00,123.80 568.00,123.30 570.00,122.00 674.40,121.80" fill="none" stroke="#222" stroke-width="1.1" stroke-dasharray="1 1.6"/>
<line x1="362.8" y1="121.4" x2="674.5" y2="121.4" stroke="#999" stroke-width="1.0"/>
<line x1="362.8" y1="120.9" x2="362.8" y2="381.3" stroke="#999" stroke-width="1.2"/>
<line x1="674.5" y1="121.2" x2="674.5" y2="381.3" stroke="#808080" stroke-width="1.0"/>
<line x1="362.2" y1="381.3" x2="675" y2="381.3" stroke="#707070" stroke-width="1.1"/>
<rect x="486.9" y="303.7" width="181.8" height="71.2" rx="2.5" fill="#fff" stroke="#c8c8c8" stroke-width="0.6"/>
<line x1="491.4" y1="313.40" x2="515.3" y2="313.40" stroke-width="1.2" stroke="#7fa8d4" stroke-dasharray="3.7 1.6"/>
<text x="524.22" y="317.7" font-size="11.6" textLength="139.91" lengthAdjust="spacingAndGlyphs" fill="#111">Glioblastoma (AUC = 0.93)</text>
<line x1="491.4" y1="330.13" x2="515.3" y2="330.13" stroke-width="1.2" stroke="#555"/>
<text x="523.90" y="334.43" font-size="11.6" textLength="123.39" lengthAdjust="spacingAndGlyphs" fill="#111">Metastasis (AUC = 0.98)</text>
<line x1="491.4" y1="346.86" x2="515.3" y2="346.86" stroke-width="1.2" stroke="#7fa8d4" stroke-dasharray="5.5 1.6 1 1.6"/>
<text x="523.87" y="351.16" font-size="11.6" textLength="135.28" lengthAdjust="spacingAndGlyphs" fill="#111">Meningioma (AUC = 0.99)</text>
<line x1="491.4" y1="363.59" x2="515.3" y2="363.59" stroke-width="1.2" stroke="#555" stroke-dasharray="1 1.6"/>
<text x="524.74" y="367.89" font-size="11.6" textLength="122.98" lengthAdjust="spacingAndGlyphs" fill="#111">All tumors (AUC = 0.95)</text>
</svg>
</body></html>
